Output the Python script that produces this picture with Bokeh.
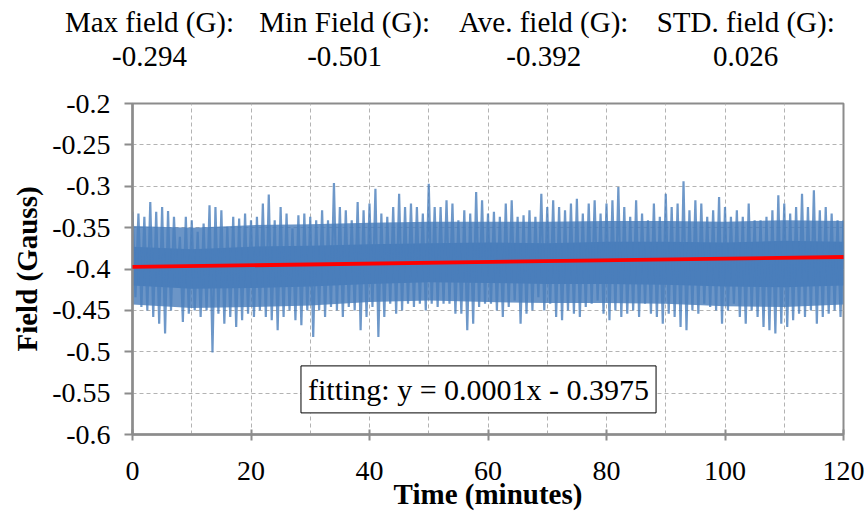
from bokeh.plotting import figure
from bokeh.models import Range1d, FixedTicker, Label, Slope, LinearAxis
from bokeh.embed import file_html
from bokeh.resources import INLINE

# ---------------- data ----------------
minutes = list(range(121))
# per-minute upper extreme of the field trace (G)
field_high = [
    -0.331, -0.333, -0.337, -0.319, -0.331, -0.325, -0.330, -0.337, -0.361, -0.337,
    -0.341, -0.355, -0.345, -0.323, -0.325, -0.329, -0.349, -0.337, -0.339, -0.333,
    -0.341, -0.337, -0.321, -0.310, -0.341, -0.325, -0.333, -0.351, -0.335, -0.333,
    -0.337, -0.341, -0.329, -0.341, -0.296, -0.325, -0.329, -0.341, -0.319, -0.329,
    -0.321, -0.303, -0.333, -0.337, -0.325, -0.309, -0.325, -0.321, -0.325, -0.333,
    -0.297, -0.325, -0.325, -0.317, -0.321, -0.341, -0.329, -0.333, -0.307, -0.317,
    -0.333, -0.331, -0.337, -0.321, -0.317, -0.337, -0.335, -0.329, -0.337, -0.309,
    -0.325, -0.317, -0.325, -0.329, -0.321, -0.315, -0.333, -0.321, -0.317, -0.333,
    -0.321, -0.317, -0.301, -0.325, -0.337, -0.317, -0.333, -0.341, -0.321, -0.337,
    -0.309, -0.325, -0.321, -0.294, -0.329, -0.317, -0.321, -0.337, -0.329, -0.313,
    -0.325, -0.337, -0.329, -0.337, -0.321, -0.341, -0.341, -0.337, -0.329, -0.311,
    -0.321, -0.333, -0.325, -0.309, -0.325, -0.305, -0.329, -0.325, -0.333, -0.341,
    -0.341,
]
# per-minute lower extreme of the field trace (G)
field_low = [
    -0.434, -0.446, -0.450, -0.458, -0.466, -0.478, -0.450, -0.420, -0.464, -0.454,
    -0.450, -0.458, -0.450, -0.501, -0.454, -0.466, -0.458, -0.470, -0.462, -0.454,
    -0.458, -0.450, -0.458, -0.462, -0.474, -0.458, -0.450, -0.462, -0.468, -0.450,
    -0.482, -0.450, -0.458, -0.446, -0.450, -0.458, -0.446, -0.450, -0.474, -0.458,
    -0.446, -0.482, -0.458, -0.442, -0.454, -0.450, -0.442, -0.446, -0.442, -0.450,
    -0.442, -0.446, -0.442, -0.442, -0.454, -0.454, -0.474, -0.466, -0.446, -0.442,
    -0.442, -0.450, -0.458, -0.446, -0.438, -0.466, -0.454, -0.450, -0.434, -0.450,
    -0.442, -0.458, -0.462, -0.450, -0.454, -0.458, -0.446, -0.442, -0.438, -0.454,
    -0.462, -0.450, -0.458, -0.454, -0.450, -0.458, -0.442, -0.454, -0.458, -0.466,
    -0.454, -0.458, -0.470, -0.474, -0.450, -0.454, -0.442, -0.446, -0.450, -0.466,
    -0.450, -0.442, -0.458, -0.466, -0.450, -0.458, -0.470, -0.474, -0.478, -0.466,
    -0.470, -0.462, -0.454, -0.458, -0.450, -0.466, -0.458, -0.454, -0.450, -0.458,
    -0.454,
]
# envelopes of the trace read every 10 minutes (G):
# "dense" = mostly covered by the trace, "core" = fully solid
band_minutes = [0, 10, 20, 30, 40, 50, 60, 70, 80, 90, 100, 110, 120]
dense_upper = [-0.348, -0.350, -0.347, -0.346, -0.344, -0.343, -0.343, -0.343, -0.342,
               -0.342, -0.343, -0.341, -0.342]
dense_lower = [-0.443, -0.447, -0.446, -0.444, -0.440, -0.438, -0.440, -0.441, -0.441,
               -0.442, -0.445, -0.446, -0.443]
core_upper = [-0.373, -0.376, -0.373, -0.372, -0.370, -0.369, -0.368, -0.369, -0.367,
              -0.367, -0.368, -0.366, -0.367]
core_lower = [-0.420, -0.424, -0.423, -0.421, -0.418, -0.416, -0.417, -0.418, -0.418,
              -0.419, -0.421, -0.422, -0.420]
x_ticks = [0, 20, 40, 60, 80, 100, 120]
x_grid_ticks = [0, 10, 20, 30, 40, 50, 60, 70, 80, 90, 100, 110, 120]
y_ticks = [-0.6, -0.55, -0.5, -0.45, -0.4, -0.35, -0.3, -0.25, -0.2]
y_tick_labels = ["-0.6", "-0.55", "-0.5", "-0.45", "-0.4", "-0.35", "-0.3", "-0.25", "-0.2"]
stat_names = ["Max field (G):", "Min Field (G):", "Ave. field (G):", "STD. field (G):"]
stat_values = ["-0.294", "-0.501", "-0.392", "0.026"]
fit_slope = 0.0001
fit_intercept = -0.3975
fit_text = "fitting: y = 0.0001x - 0.3975"

# ---------------- styling / layout ----------------
FONT = "Liberation Serif"
BLUE = "#4a7ebb"
AXIS_GRAY = "#8c8c8c"
GRID_GRAY = "#b3b3b3"

p = figure(frame_width=711, frame_height=331, output_backend="svg",
           toolbar_location=None,
           x_range=Range1d(0, 120), y_range=Range1d(-0.6, -0.2),
           min_border_left=132, min_border_right=21, min_border_top=103,
           min_border_bottom=30)
p.background_fill_color = "white"
p.border_fill_color = "white"
p.outline_line_color = AXIS_GRAY
p.outline_line_width = 2

# densely covered part of the noisy trace and its solid core
p.varea(x=band_minutes, y1=dense_lower, y2=dense_upper, fill_color=BLUE, fill_alpha=0.82)
p.varea(x=band_minutes, y1=core_lower, y2=core_upper, fill_color=BLUE, fill_alpha=1.0)
# spikes: alternate between the upper and lower extremes of each minute
trace_x, trace_y = [], []
for t, hi, lo in zip(minutes, field_high, field_low):
    trace_x += [t, t + 0.5]
    trace_y += [hi, lo]
p.line(trace_x, trace_y, line_color=BLUE, line_width=2.2, line_alpha=0.8)

# linear fit
p.add_layout(Slope(gradient=fit_slope, y_intercept=fit_intercept,
                   line_color="#ff0000", line_width=3.8))

# axes
p.xaxis.ticker = FixedTicker(ticks=x_ticks)
p.yaxis.ticker = FixedTicker(ticks=y_ticks)
p.yaxis.major_label_overrides = {v: s for v, s in zip(y_ticks, y_tick_labels)}
for ax in (p.xaxis[0], p.yaxis[0]):
    ax.axis_line_color = AXIS_GRAY
    ax.axis_line_width = 2.5
    ax.major_tick_line_color = AXIS_GRAY
    ax.major_tick_line_width = 2
    ax.minor_tick_line_color = None
    ax.major_label_text_font = FONT
    ax.major_label_text_font_size = "28px"
    ax.major_label_text_color = "black"
    ax.axis_label_text_font = FONT
    ax.axis_label_text_font_style = "bold"
    ax.axis_label_text_color = "black"
p.xaxis.major_tick_in = 5
p.xaxis.major_tick_out = 6
p.xaxis.major_label_standoff = 21
p.xaxis.axis_label = "Time (minutes)"
p.xaxis.axis_label_text_font_size = "29px"
p.xaxis.axis_label_standoff = -5
p.yaxis.major_tick_in = 0
p.yaxis.major_tick_out = 8
p.yaxis.major_label_standoff = 14
p.yaxis.axis_label = "Field (Gauss)"
p.yaxis.axis_label_text_font_size = "29px"
p.yaxis.axis_label_standoff = 6

# statistics header: two tick-label-only axes above the plot
header_pos = [2.87, 35.8, 69.4, 103.5]
for labels, standoff in ((stat_values, 38), (stat_names, 6)):
    hax = LinearAxis(ticker=FixedTicker(ticks=header_pos),
                     major_label_overrides={v: s for v, s in zip(header_pos, labels)})
    hax.axis_line_color = None
    hax.major_tick_line_color = None
    hax.minor_tick_line_color = None
    hax.major_tick_in = 0
    hax.major_tick_out = 0
    hax.major_label_standoff = standoff
    hax.major_label_text_font = FONT
    hax.major_label_text_font_size = "29px"
    hax.major_label_text_color = "black"
    p.add_layout(hax, "above")

# grids
p.xgrid.ticker = FixedTicker(ticks=x_grid_ticks)
p.ygrid.ticker = FixedTicker(ticks=y_ticks)
for g in (p.xgrid[0], p.ygrid[0]):
    g.grid_line_color = GRID_GRAY
    g.grid_line_dash = "4 3"
    g.grid_line_width = 1

# fitting label box
p.add_layout(Label(x=58.4, y=-0.5455, text=fit_text, text_font=FONT,
                   text_font_size="30px", text_align="center",
                   text_baseline="middle", text_color="black",
                   background_fill_color="white", border_line_color="black",
                   border_line_width=1, padding=7))

open("out.html", "w").write(file_html(p, INLINE))
